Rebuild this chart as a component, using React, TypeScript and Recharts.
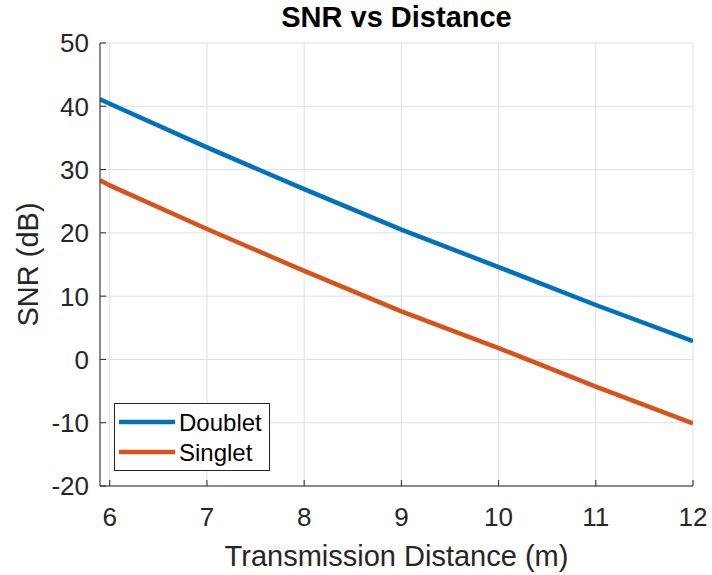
import React from 'react';
import { LineChart, Line, XAxis, YAxis, CartesianGrid, Legend, Label } from 'recharts';

const distances = [5.9, 6, 7, 8, 9, 10, 11, 12];
const doubletSNR = [41.1, 40.4, 33.5, 26.9, 20.5, 14.6, 8.6, 2.9];
const singletSNR = [28.3, 27.5, 20.6, 14.0, 7.6, 1.8, -4.3, -10.1];
const xTicks = [6, 7, 8, 9, 10, 11, 12];
const yTicks = [-20, -10, 0, 10, 20, 30, 40, 50];
const seriesNames = ['Doublet', 'Singlet'];
const seriesColors = ['#0072BD', '#D95319'];

const data = distances.map((d, i) => ({ x: d, doublet: doubletSNR[i], singlet: singletSNR[i] }));

const FONT = '"Liberation Sans", Arial, Helvetica, sans-serif';
const AX = '#262626';

const BottomTick = (p: any) => {
  const { x, y, payload } = p;
  return (
    <g>
      <line x1={x} y1={y} x2={x} y2={y - 6} stroke={AX} strokeWidth={1} />
      <text x={x} y={y + 40} textAnchor="middle" fontSize={26} fontFamily={FONT} fill={AX}>
        {payload.value}
      </text>
    </g>
  );
};
const LeftTick = (p: any) => {
  const { x, y, payload } = p;
  return (
    <g>
      <line x1={x} y1={y} x2={x + 6} y2={y} stroke={AX} strokeWidth={1} />
      <text x={x - 11} y={y} dy="0.36em" textAnchor="end" fontSize={26} fontFamily={FONT} fill={AX}>
        {payload.value}
      </text>
    </g>
  );
};
const TopTick = (p: any) => {
  const { x, y } = p;
  return <line x1={x} y1={y} x2={x} y2={y + 6} stroke={AX} strokeWidth={1} />;
};
const RightTick = (p: any) => {
  const { x, y } = p;
  return <line x1={x} y1={y} x2={x - 6} y2={y} stroke={AX} strokeWidth={1} />;
};

const renderLegend = (props: any) => {
  const { payload } = props;
  return (
    <div style={{ width: 156, height: 68, border: `1px solid ${AX}`, background: '#fff', boxSizing: 'border-box' }}>
      <svg width={154} height={66} style={{ display: 'block' }}>
        {(payload || []).map((e: any, i: number) => (
          <g key={i}>
            <line x1={4} x2={60} y1={18 + i * 30} y2={18 + i * 30} stroke={e.color} strokeWidth={4.5} />
            <text x={64} y={18 + i * 30} dy="0.36em" fontSize={24} fontFamily={FONT} fill="#000">
              {e.value}
            </text>
          </g>
        ))}
      </svg>
    </div>
  );
};

export default function App() {
  return (
    <div style={{ position: 'absolute', left: 0, top: 0, width: 712, height: 575, background: '#fff' }}>
      <div
        style={{
          position: 'absolute',
          left: 0,
          width: 793,
          top: 3,
          textAlign: 'center',
          fontFamily: FONT,
          fontWeight: 'bold',
          fontSize: 29,
          lineHeight: '29px',
          color: '#000',
          zIndex: 2,
        }}
      >
        SNR vs Distance
      </div>
      <LineChart width={712} height={575} data={data} margin={{ top: 43, right: 19, left: 0, bottom: 0 }}>
        <CartesianGrid stroke="#dfdfdf" strokeWidth={1} />
        <XAxis
          dataKey="x"
          type="number"
          domain={[5.9, 12]}
          ticks={xTicks}
          allowDataOverflow
          height={89}
          tickSize={0}
          tickMargin={0}
          tickLine={false}
          axisLine={{ stroke: AX, strokeWidth: 1 }}
          tick={BottomTick}
          interval={0}
        >
          <Label
            content={(lp: any) => {
              const vb = lp.viewBox;
              return (
                <text x={vb.x + vb.width / 2} y={566} textAnchor="middle" fontSize={29} fontFamily={FONT} fill={AX}>
                  Transmission Distance (m)
                </text>
              );
            }}
          />
        </XAxis>
        <XAxis
          xAxisId="top"
          orientation="top"
          dataKey="x"
          type="number"
          domain={[5.9, 12]}
          ticks={xTicks}
          allowDataOverflow
          height={0}
          tickSize={0}
          tickMargin={0}
          tickLine={false}
          axisLine={{ stroke: AX, strokeWidth: 1 }}
          tick={TopTick}
          interval={0}
        />
        <YAxis
          type="number"
          domain={[-20, 50]}
          ticks={yTicks}
          allowDataOverflow
          width={100}
          tickSize={0}
          tickMargin={0}
          tickLine={false}
          axisLine={{ stroke: AX, strokeWidth: 1 }}
          tick={LeftTick}
          interval={0}
        >
          <Label
            content={(lp: any) => {
              const vb = lp.viewBox;
              const cy = vb.y + vb.height / 2;
              return (
                <text
                  x={28}
                  y={cy}
                  transform={`rotate(-90, 28, ${cy})`}
                  textAnchor="middle"
                  dominantBaseline="central"
                  fontSize={29}
                  fontFamily={FONT}
                  fill={AX}
                >
                  SNR (dB)
                </text>
              );
            }}
          />
        </YAxis>
        <YAxis
          yAxisId="right"
          orientation="right"
          type="number"
          domain={[-20, 50]}
          ticks={yTicks}
          allowDataOverflow
          width={0}
          tickSize={0}
          tickMargin={0}
          tickLine={false}
          axisLine={{ stroke: AX, strokeWidth: 1 }}
          tick={RightTick}
          interval={0}
        />
        <Line
          type="linear"
          dataKey="doublet"
          name={seriesNames[0]}
          stroke={seriesColors[0]}
          strokeWidth={4.5}
          dot={false}
          isAnimationActive={false}
        />
        <Line
          type="linear"
          dataKey="singlet"
          name={seriesNames[1]}
          stroke={seriesColors[1]}
          strokeWidth={4.5}
          dot={false}
          isAnimationActive={false}
        />
        <Legend
          content={renderLegend}
          layout="horizontal"
          verticalAlign="middle"
          align="center"
          wrapperStyle={{ position: 'absolute', left: 114, top: 403, width: 156, height: 68 }}
        />
      </LineChart>
    </div>
  );
}
